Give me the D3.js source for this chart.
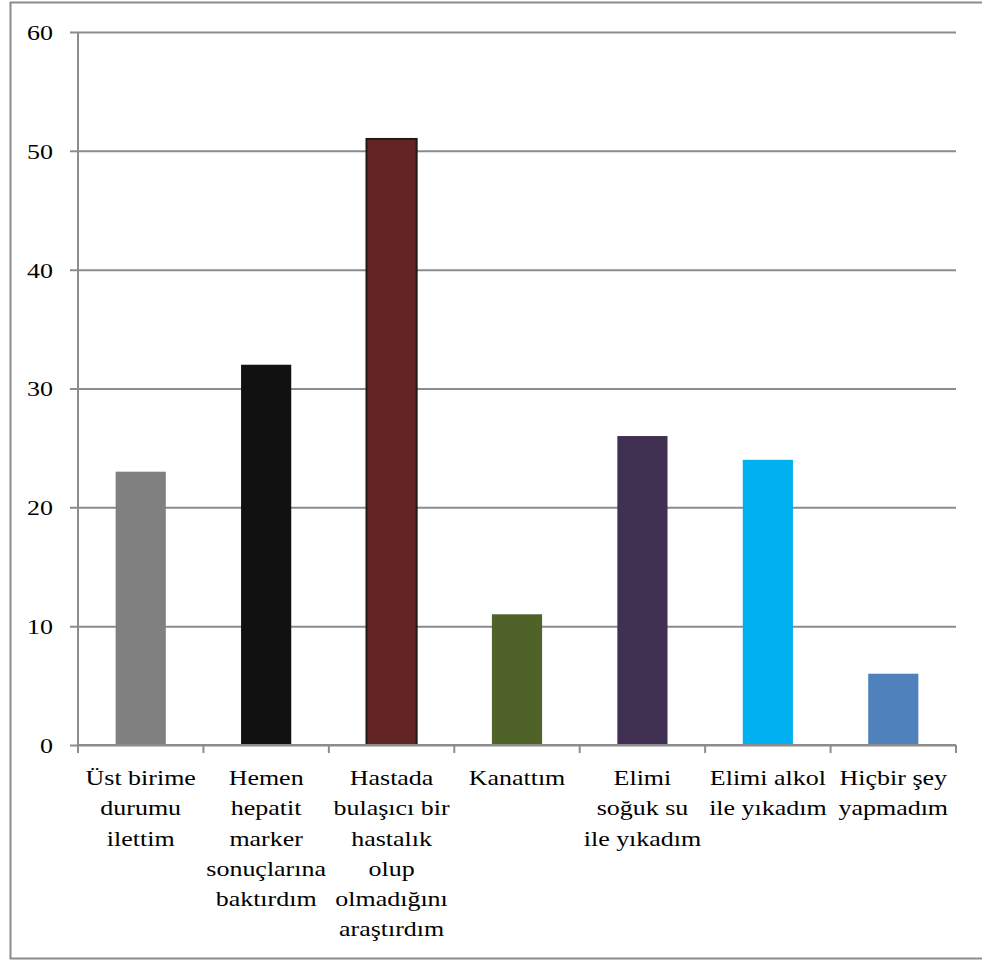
<!DOCTYPE html>
<html>
<head>
<meta charset="utf-8">
<script src="https://cdn.jsdelivr.net/npm/d3@7"></script>
<style>
  html, body { margin: 0; padding: 0; background: #fff; }
  svg { display: block; }
</style>
</head>
<body>
<svg id="chart" width="982" height="962"></svg>
<script>
const FONT = "'Liberation Serif', 'Times New Roman', Tinos, serif";
const STRETCH = 1.18; // labels are set slightly wide

// Category labels, already broken into lines
const categories = [
  ["Üst birime", "durumu", "ilettim"],
  ["Hemen", "hepatit", "marker", "sonuçlarına", "baktırdım"],
  ["Hastada", "bulaşıcı bir", "hastalık", "olup", "olmadığını", "araştırdım"],
  ["Kanattım"],
  ["Elimi", "soğuk su", "ile yıkadım"],
  ["Elimi alkol", "ile yıkadım"],
  ["Hiçbir şey", "yapmadım"]
];
const values = [23, 32, 51, 11, 26, 24, 6];
const colors = ["#808080", "#111111", "#632523", "#4f6228", "#403152", "#00b0f0", "#4f81bd"];
const yTicks = [0, 10, 20, 30, 40, 50, 60];

const svg = d3.select("#chart");

// outer chart frame
svg.append("rect")
  .attr("x", 10.5).attr("y", 2.5)
  .attr("width", 990).attr("height", 956)
  .attr("fill", "none").attr("stroke", "#8c8c8c").attr("stroke-width", 2);

const plot = { left: 78, right: 956, top: 32, bottom: 745 };

const x = d3.scaleBand()
  .domain(d3.range(categories.length))
  .range([plot.left, plot.right])
  .paddingInner(0.6).paddingOuter(0.3);

const xb = d3.scaleBand()
  .domain(d3.range(categories.length))
  .range([plot.left, plot.right]);

const y = d3.scaleLinear().domain([0, 60]).range([plot.bottom, plot.top]);

// horizontal gridlines with left tick stubs
const yAxis = d3.axisLeft(y).tickValues(yTicks)
  .tickSizeOuter(0).tickFormat(d3.format("d"));
const gy = svg.append("g").attr("transform", `translate(${plot.left - 8},0)`).call(yAxis);
gy.attr("font-family", null).attr("font-size", null);
gy.select(".domain").remove();
gy.selectAll(".tick line").attr("stroke", "#8c8c8c").attr("stroke-width", 2)
  .attr("x1", 0).attr("x2", plot.right - plot.left + 8);
gy.selectAll(".tick text")
  .attr("x", -17 / STRETCH).attr("dy", "0.34em")
  .attr("transform", `scale(${STRETCH},1)`)
  .attr("font-size", 22)
  .style("font-family", FONT).attr("fill", "#000");

// vertical axis line
svg.append("line")
  .attr("x1", plot.left).attr("x2", plot.left)
  .attr("y1", plot.top).attr("y2", plot.bottom)
  .attr("stroke", "#8c8c8c").attr("stroke-width", 2);

// bars
svg.append("g").selectAll("rect").data(values).join("rect")
  .attr("x", (d, i) => x(i))
  .attr("y", d => y(d))
  .attr("width", x.bandwidth())
  .attr("height", d => y(0) - y(d))
  .attr("fill", (d, i) => colors[i])
  .attr("stroke", (d, i) => i === 2 ? "#231a14" : "none")
  .attr("stroke-width", (d, i) => i === 2 ? 2 : 0);

// category axis: baseline and boundary ticks
const bounds = d3.range(categories.length + 1).map(i => plot.left + i * xb.step());
svg.append("line")
  .attr("x1", plot.left).attr("x2", plot.right)
  .attr("y1", plot.bottom).attr("y2", plot.bottom)
  .attr("stroke", "#8c8c8c").attr("stroke-width", 2);
svg.append("g").selectAll("line").data(bounds).join("line")
  .attr("x1", d => d).attr("x2", d => d)
  .attr("y1", plot.bottom).attr("y2", plot.bottom + 8)
  .attr("stroke", "#8c8c8c").attr("stroke-width", 2);

// category labels
const lab = svg.append("g").selectAll("text").data(categories).join("text")
  .attr("text-anchor", "middle")
  .style("font-family", FONT)
  .attr("font-size", 22)
  .attr("fill", "#000")
  .attr("transform", (d, i) => `translate(${xb(i) + xb.bandwidth() / 2},785) scale(${STRETCH},1)`);
lab.selectAll("tspan").data(d => d).join("tspan")
  .attr("x", 0)
  .attr("dy", (d, j) => j === 0 ? 0 : 30.3)
  .text(d => d);
</script>
</body>
</html>
